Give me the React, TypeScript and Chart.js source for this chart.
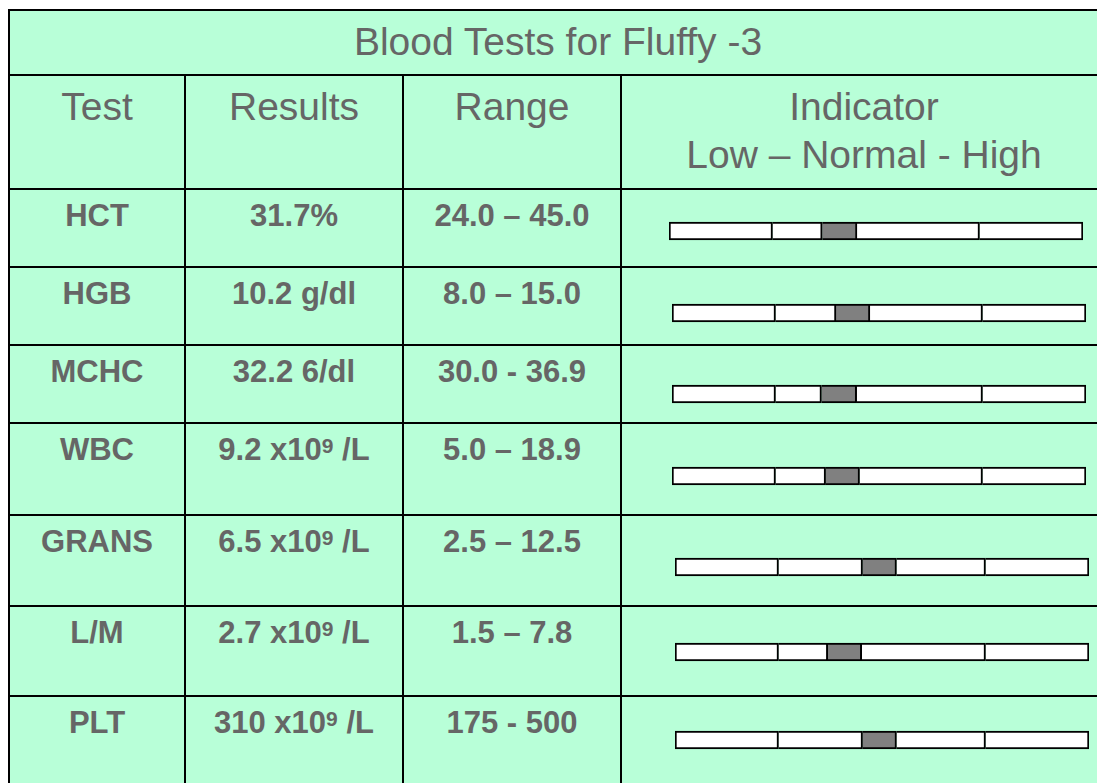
import React, { useEffect, useRef } from "react";
import { Chart, registerables } from "chart.js";

Chart.register(...registerables);

// ---------- data ----------
const TITLE = "Blood Tests for Fluffy -3";
const HEADERS = ["Test", "Results", "Range", "Indicator\nLow – Normal - High"];
const TESTS = ["HCT", "HGB", "MCHC", "WBC", "GRANS", "L/M", "PLT"];
const RESULTS = ["31.7%", "10.2 g/dl", "32.2 6/dl", "9.2 x10⁹ /L", "6.5 x10⁹ /L", "2.7 x10⁹ /L", "310 x10⁹ /L"];
const RANGES = ["24.0 – 45.0", "8.0 – 15.0", "30.0 - 36.9", "5.0 – 18.9", "2.5 – 12.5", "1.5 – 7.8", "175 - 500"];

// indicator scale: 0..100 of the bar, low = 0..25, normal = 25..75, high = 75..100
const SCALE_MIN = 0;
const LOW_END = 25;
const HIGH_START = 75;
const SCALE_MAX = 100;
const MARKER_START = [37.0, 39.6, 36.1, 37.1, 45.3, 36.9, 45.3];
const MARKER_END = [45.4, 47.8, 44.6, 45.3, 53.5, 45.1, 53.5];

// ---------- layout ----------
const COL_X = [9, 185, 403, 621, 1107];
const ROW_Y = [10, 75, 189, 267, 345, 423, 515, 606, 696, 790];
const BAR_LEFT = [669, 672, 672, 672, 675, 675, 675];
const BAR_WIDTH = 414;
const BAR_OFFSET = [41.5, 46, 49, 52.5, 52, 46, 43.5];
const BG = "#B8FFD8";
const TEXT = "#666666";
const FONT = "'Liberation Sans', Arial, Helvetica, sans-serif";

function IndicatorBar({ index }: { index: number }) {
  const ref = useRef<HTMLCanvasElement | null>(null);
  useEffect(() => {
    if (!ref.current) return;
    const ms = MARKER_START[index];
    const me = MARKER_END[index];
    const segs = [
      { v: LOW_END - SCALE_MIN, c: "#ffffff", first: true },
      { v: ms - LOW_END, c: "#ffffff", first: false },
      { v: me - ms, c: "#808080", first: false },
      { v: HIGH_START - me, c: "#ffffff", first: false },
      { v: SCALE_MAX - HIGH_START, c: "#ffffff", first: false },
    ];
    const chart = new Chart(ref.current, {
      type: "bar",
      data: {
        labels: [TESTS[index]],
        datasets: segs.map((s, k) => ({
          label: "seg" + k,
          data: [s.v],
          backgroundColor: s.c,
          borderColor: "#000000",
          borderWidth: { top: 2, bottom: 2, right: 2, left: s.first ? 2 : 0 },
          borderSkipped: false,
          barThickness: 18,
        })),
      },
      options: {
        indexAxis: "y",
        animation: false,
        responsive: false,
        maintainAspectRatio: false,
        events: [],
        layout: { padding: 0 },
        plugins: {
          legend: { display: false },
          tooltip: { enabled: false },
          title: { display: false },
        },
        scales: {
          x: { stacked: true, min: SCALE_MIN, max: SCALE_MAX, display: false },
          y: { stacked: true, display: false },
        },
      },
    } as any);
    return () => chart.destroy();
  }, [index]);
  const top = ROW_Y[index + 2] + BAR_OFFSET[index] - 12;
  return (
    <canvas
      ref={ref}
      width={BAR_WIDTH}
      height={24}
      style={{ position: "absolute", left: BAR_LEFT[index], top, width: BAR_WIDTH, height: 24 }}
    />
  );
}

function renderResult(s: string) {
  const parts = s.split("⁹");
  if (parts.length === 1) return s;
  return (
    <>
      {parts[0]}
      <span style={{ fontSize: 21, verticalAlign: 7, lineHeight: 0 }}>9</span>
      {parts[1]}
    </>
  );
}

export default function App() {
  const left = COL_X[0];
  const right = COL_X[COL_X.length - 1];
  const top = ROW_Y[0];
  const bottom = ROW_Y[ROW_Y.length - 1];
  const lines: React.ReactNode[] = [];
  ROW_Y.forEach((y, i) =>
    lines.push(
      <div key={"h" + i} style={{ position: "absolute", left: left - 1, top: y - 1, width: right - left + 2, height: 2, background: "#000" }} />
    )
  );
  COL_X.forEach((x, i) => {
    const outer = i === 0 || i === COL_X.length - 1;
    const y0 = outer ? top : ROW_Y[1];
    lines.push(
      <div key={"v" + i} style={{ position: "absolute", left: x - 1, top: y0 - 1, width: 2, height: bottom - y0 + 2, background: "#000" }} />
    );
  });

  const cell = (col: number, y: number, content: React.ReactNode, style: React.CSSProperties, key: string) => (
    <div
      key={key}
      style={{
        position: "absolute",
        left: COL_X[col],
        width: COL_X[col + 1] - COL_X[col],
        top: y,
        textAlign: "center",
        color: TEXT,
        whiteSpace: "pre-line",
        ...style,
      }}
    >
      {content}
    </div>
  );

  const headerStyle: React.CSSProperties = { fontSize: 39, lineHeight: "48px", fontWeight: 400 };
  const dataStyle: React.CSSProperties = { fontSize: 31, lineHeight: "36px", fontWeight: 700 };

  return (
    <div style={{ position: "fixed", left: 0, top: 0, width: 1097, height: 783, overflow: "hidden", background: "#fff", fontFamily: FONT }}>
      <div style={{ position: "absolute", left, top, width: right - left, height: bottom - top, background: BG }} />
      <div
        style={{
          position: "absolute",
          left,
          width: right - left,
          top: 19,
          textAlign: "center",
          color: TEXT,
          fontSize: 39,
          lineHeight: "45px",
        }}
      >
        {TITLE}
      </div>
      {HEADERS.map((h, c) => cell(c, 83, h, headerStyle, "hd" + c))}
      {TESTS.map((t, i) => (
        <React.Fragment key={"r" + i}>
          {cell(0, ROW_Y[i + 2] + 9, t, dataStyle, "t" + i)}
          {cell(1, ROW_Y[i + 2] + 9, renderResult(RESULTS[i]), dataStyle, "res" + i)}
          {cell(2, ROW_Y[i + 2] + 9, RANGES[i], dataStyle, "rg" + i)}
        </React.Fragment>
      ))}
      {lines}
      {TESTS.map((_, i) => (
        <IndicatorBar key={"b" + i} index={i} />
      ))}
    </div>
  );
}
